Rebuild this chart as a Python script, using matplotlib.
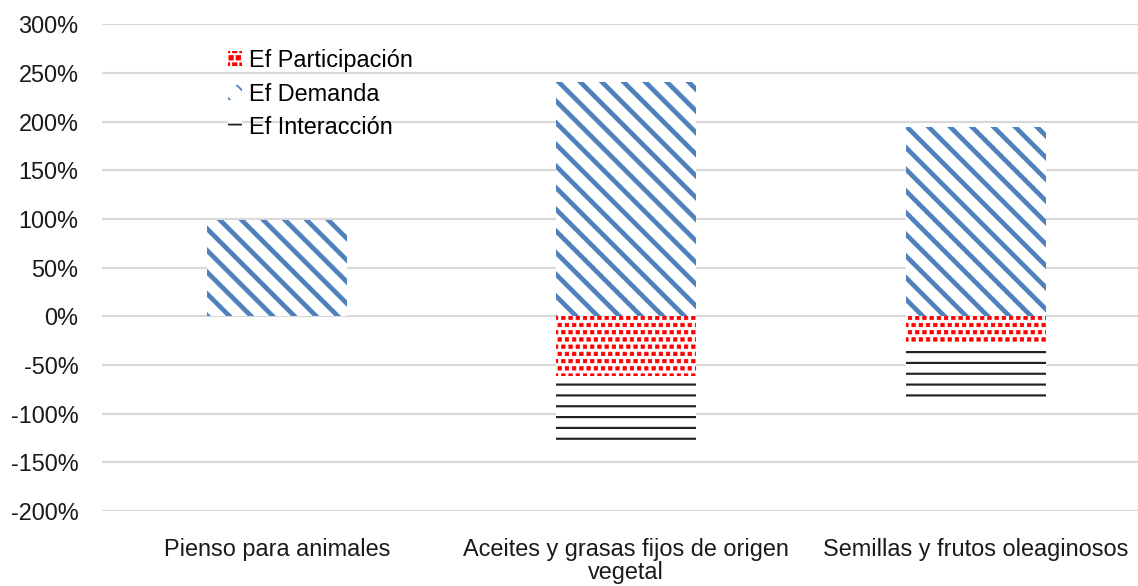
import matplotlib
matplotlib.use("Agg")
import matplotlib.pyplot as plt
import matplotlib.hatch as mhatch
from matplotlib.path import Path
import numpy as np
from matplotlib.ticker import FuncFormatter

plt.rcParams['font.family'] = ['Liberation Sans', 'DejaVu Sans']

categorias = ["Pienso para animales",
              "Aceites y grasas fijos de origen\nvegetal",
              "Semillas y frutos oleaginosos"]
participacion = [0, -61, -28]
demanda = [99, 241, 195]
interaccion = [0, -74, -63]
yticks = [300, 250, 200, 150, 100, 50, 0, -50, -100, -150, -200]


# '.' hatch drawn as small filled squares (like Excel's confetti pattern)
def _square_init(self, hatch, density):
    self.num_rows = hatch.count('.') * density
    self.shape_vertices = np.array([[-1, -1], [1, -1], [1, 1], [-1, 1], [-1, -1]], float)
    self.shape_codes = np.array([Path.MOVETO, Path.LINETO, Path.LINETO,
                                 Path.LINETO, Path.CLOSEPOLY], dtype=Path.code_type)
    mhatch.Shapes.__init__(self, hatch, density)

mhatch.SmallFilledCircles.__init__ = _square_init
mhatch.SmallFilledCircles.size = 0.24

DPI = 130
fig = plt.figure(figsize=(1138 / DPI, 586 / DPI), dpi=DPI)
ax = fig.add_axes([102 / 1138, 1 - 511 / 586, 1 - 102 / 1138, (511 - 24.3) / 586])

x = np.arange(len(categorias))
w = 0.4

def set_hlw(bars, lw):
    for b in bars:
        if hasattr(b, "set_hatch_linewidth"):
            b.set_hatch_linewidth(lw)

with plt.rc_context({'hatch.linewidth': 0.4}):
    b1 = ax.bar(x, participacion, w, color='white', edgecolor='#FF0000',
                hatch='...', linewidth=0, label='Ef Participación', zorder=3)
set_hlw(b1, 0.4)
with plt.rc_context({'hatch.linewidth': 2.6}):
    b2 = ax.bar(x, demanda, w, color='white', edgecolor='#4F81BD',
                hatch='\\\\', linewidth=0, label='Ef Demanda', zorder=3)
set_hlw(b2, 2.6)
with plt.rc_context({'hatch.linewidth': 1.2}):
    b3 = ax.bar(x, interaccion, w, bottom=participacion, color='white',
                edgecolor='#222222', hatch='--', linewidth=0,
                label='Ef Interacción', zorder=3)
set_hlw(b3, 1.2)

ax.set_xlim(-0.5, 2.464)
ax.set_ylim(-200, 300)
ax.set_yticks(yticks)
ax.yaxis.set_major_formatter(FuncFormatter(lambda v, p: f"{v:.0f}%"))
ax.set_xticks(x)
ax.set_xticklabels(categorias, linespacing=1.0)
ax.tick_params(axis='y', length=0, pad=13, labelsize=13, labelcolor='#1a1a1a')
ax.tick_params(axis='x', length=0, pad=15, labelsize=13, labelcolor='#1a1a1a')
ax.grid(axis='y', color='#D9D9D9', linewidth=1.2, zorder=0)
ax.set_axisbelow(True)
for s in ax.spines.values():
    s.set_visible(False)

ax.legend(loc='upper left', bbox_to_anchor=(228 / 1138, 1 - 49 / 586),
          bbox_transform=fig.transFigure, frameon=False, fontsize=13,
          handlelength=0.6, handleheight=0.6, handletextpad=0.3,
          labelspacing=0.45, borderaxespad=0, borderpad=0)

fig.savefig("out.png", dpi=DPI)
